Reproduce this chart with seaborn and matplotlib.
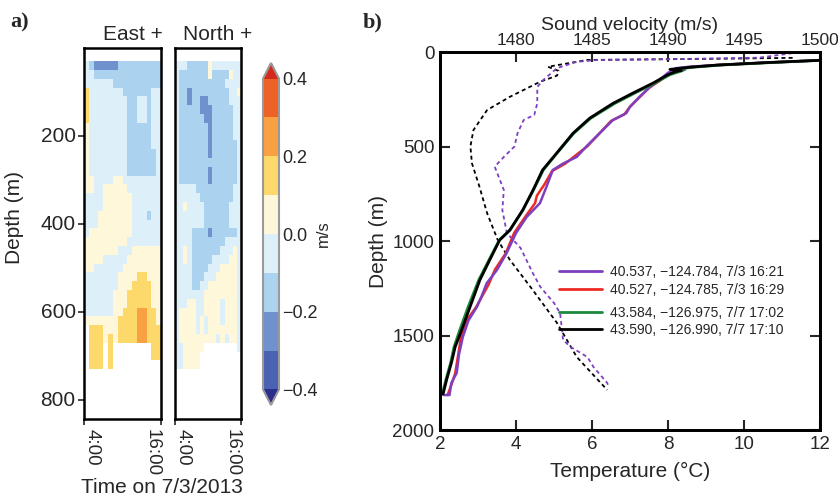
import numpy as np
import matplotlib
matplotlib.use("Agg")
import matplotlib.pyplot as plt
from matplotlib.colors import ListedColormap, BoundaryNorm
from matplotlib.lines import Line2D
from matplotlib.ticker import FixedLocator
import seaborn as sns

sns.set_style("ticks")
plt.rcParams["font.family"] = ["Liberation Sans", "DejaVu Sans"]

# ---------------- panel a data (velocity bands) ----------------
# band codes: A..H -> band centre values, '.' -> no data
band_codes = ["A", "B", "C", "D", "E", "F", "G", "H"]
band_values = [-0.35, -0.25, -0.15, -0.05, 0.05, 0.15, 0.25, 0.35]
time_start, time_end = 4, 16              # hours on 7/3/2013, 16 columns
depth_top, depth_step = 30, 20            # 35 rows, 30 m .. 730 m
time_tick_labels = ["4:00", "16:00"]
depth_ticks_a = [200, 400, 600, 800]
cbar_ticks = [-0.4, -0.2, 0.0, 0.2, 0.4]
cbar_tick_labels = ["\u22120.4", "\u22120.2", "0.0", "0.2", "0.4"]

east_rows = [
    "DCBBBBBCCCCCCCCC",
    "DDCCCCCCCCCCCCCC",
    "DDDDDDCCCCCCCCCC",
    "FDDDDDDDCCCCCCDD",
    "FDDDDDDDDCCDDCDD",
    "FDDDDDDDDCCDDCDD",
    "FDDDDDDDDCCDDCDD",
    "EDDDDDDDDCCCCCDD",
    "EDDDDDDDDCCCCCDD",
    "EDDDDDDDDCCCCCDD",
    "EDDDDDDDDCCCCCCD",
    "EDDDDDDDDCCCCCCD",
    "EDDDDDDDDCCCCCCD",
    "EEDDDDEEDDDDDDDD",
    "EEDDEEEEEDDDDDDD",
    "DDDDEEEEEEDDDDDD",
    "DDDDEEEEEEDDDDDD",
    "DDDEEEEEEEDDDCDD",
    "DDDEEEEEEEDDDDDD",
    "DEEEEEEEEEDDDDDD",
    "EEEEEEEEEDDDDDDD",
    "EEEEEEEDDDEEEEEE",
    "EEEEDDDDDEEEEEEE",
    "EEDDDDDDEEEEEEEE",
    "DDDDDDDEEEEFFEEE",
    "DDDDDDDEEEFFFFEE",
    "DDDDDDEEEFFFFFEE",
    "DDDDDDEEEFFFFFEE",
    "DDDDDDEEFFFGGFFE",
    "EEEEEEEFFFFGGFFE",
    ".FFFEEEFFFFGGFFF",
    ".FFFEFEFFFFGGFFF",
    ".FFF.F........FF",
    ".FFF.F........FF",
    ".FFF.F..........",
]

north_rows = [
    "DDDCCCCCEDDDDDDD",
    "DCCCCCCCECCCCEDD",
    "DCCCCCCCCCCCDDDD",
    "DCCBCCCCCCCCCDDE",
    "DCCBCCBBCCCCCDDD",
    "DCCCCCBBBCCCCCDD",
    "DCCCCCCBBCCCCCDD",
    "DCCCCCCCBCCCCCDD",
    "DCCCCCCCBCCCCCDD",
    "DCCCCCCCBCCCCCCD",
    "DCCCCCCCBCCCCCCD",
    "DCCCCCCCCCCCCCCD",
    "DCCCCCCCBCCCCCCD",
    "DCCCCCCCBCCCCCCD",
    "DDDDDCCCCCCCCCDD",
    "DDDDDDCCCCCCCCDD",
    "DDEDDDDCCCCCCDDD",
    "DDDDDDDCCCCCCDDD",
    "DDDDDDDCCCCCCDDD",
    "DDDDCCCCBCCCCCCD",
    "DDDDCCCCCCCCDDDD",
    "DDEDCCCCCCCDDDED",
    "DDEDCCCCCDDDDEED",
    "DDDDCCCCDDDEEEED",
    "DDDDCCCDDDEEEEED",
    "DDDDCCDDEEEEEEED",
    "DDDDDDDEEEEEEEED",
    "DDDEEDDEEEEDEEED",
    "DEEEEDDEEEEDEEED",
    "DEEEEDEDEEEDEEED",
    "DEEEEDEDEEEEEEED",
    "DEEEEEEEEEDEDEED",
    "DDEEEEE........D",
    "DDEEEE..........",
    "DDEEEE..........",
]

# ---------------- panel b data ----------------
depth_black = [38, 44, 56, 69, 80, 92, 97, 104, 120, 165, 218, 272, 350, 430, 535, 624, 730, 836,
               942, 995, 1100, 1206, 1349, 1471, 1560, 1645, 1730, 1810]
temp_black = [13.5, 12.0, 10.6, 9.3, 8.6, 8.05, 8.35, 8.2, 8.0, 7.6, 7.07, 6.55, 5.94, 5.5, 5.07, 4.7,
              4.45, 4.18, 3.84, 3.57, 3.31, 3.05, 2.79, 2.57, 2.4, 2.3, 2.18, 2.08]
depth_green = depth_black
temp_green = [13.5, 12.0, 10.7, 9.4, 8.7, 8.15, 8.4, 8.3, 8.05, 7.65, 7.12, 6.6, 5.97, 5.52, 5.08, 4.72,
              4.46, 4.18, 3.84, 3.56, 3.29, 3.02, 2.74, 2.52, 2.37, 2.28, 2.16, 2.06]
depth_purple = [38, 44, 56, 69, 78, 86, 93, 100, 110, 148, 190, 237, 290, 324, 360, 430, 500, 555, 590,
                624, 714, 800, 873, 958, 1065, 1153, 1223, 1290, 1349, 1420, 1508, 1600, 1698, 1751,
                1815, 1815]
temp_purple = [13.5, 12.0, 10.6, 9.3, 8.56, 8.2, 8.45, 8.1, 8.0, 7.77, 7.5, 7.25, 7.0, 6.9, 6.55, 6.2,
               5.85, 5.6, 5.24, 4.97, 4.8, 4.63, 4.28, 4.0, 3.75, 3.5, 3.23, 3.1, 2.97, 2.75, 2.6, 2.5,
               2.44, 2.3, 2.25, 2.1]
depth_red = [38, 44, 56, 69, 80, 90, 100, 110, 150, 190, 240, 290, 330, 365, 430, 500, 550, 590, 630,
             700, 760, 800, 870, 958, 1065, 1150, 1230, 1350, 1420, 1510, 1600, 1700, 1760, 1815]
temp_red = [13.5, 12.0, 10.6, 9.3, 8.6, 8.25, 8.35, 8.05, 7.8, 7.5, 7.25, 7.0, 6.85, 6.5, 6.2, 5.87,
            5.55, 5.3, 4.95, 4.75, 4.55, 4.5, 4.25, 3.95, 3.73, 3.45, 3.28, 2.95, 2.7, 2.55, 2.48, 2.4,
            2.3, 2.2]
depth_sv_black = [31, 36, 42, 78, 100, 125, 157, 237, 307, 413, 500, 588, 714, 853, 995, 1100, 1259,
                  1434, 1614, 1788]
sv_black = [1498.2, 1493.0, 1484.7, 1482.1, 1482.8, 1482.7, 1481.6, 1479.6, 1478.1, 1477.2, 1477.0,
            1477.1, 1477.6, 1478.1, 1478.8, 1479.6, 1481.1, 1482.7, 1484.0, 1486.0]
depth_sv_purple = [6, 30, 38, 42, 52, 85, 148, 185, 272, 333, 360, 430, 500, 555, 607, 730, 836, 958,
                   1037, 1169, 1243, 1328, 1381, 1524, 1561, 1614, 1667, 1751, 1772]
sv_purple = [1498.2, 1496.0, 1490.0, 1485.4, 1484.0, 1482.7, 1481.8, 1481.4, 1481.4, 1481.2, 1480.5,
             1480.1, 1479.9, 1479.2, 1478.6, 1479.2, 1479.1, 1479.4, 1480.3, 1481.1, 1481.6, 1482.5,
             1482.9, 1483.1, 1483.6, 1484.7, 1485.1, 1486.0, 1486.1]
legend_labels = ["40.537, \u2212124.784, 7/3 16:21", "40.527, \u2212124.785, 7/3 16:29",
                 "43.584, \u2212126.975, 7/7 17:02", "43.590, \u2212126.990, 7/7 17:10"]
temp_ticks = [2, 4, 6, 8, 10, 12]
depth_ticks_b = [0, 500, 1000, 1500, 2000]
sv_ticks = [1480, 1485, 1490, 1495, 1500]

# ---------------- styles ----------------
band_colors = ["#4a62b2", "#6f92cf", "#abd2ee", "#ddf0f9", "#fef7da", "#fdd86a", "#f9a043", "#ee6127"]
cmap = ListedColormap(band_colors)
cmap.set_under("#2c2f8a")
cmap.set_over("#d42a1e")
cmap.set_bad((1, 1, 1, 0))
norm = BoundaryNorm(np.linspace(-0.4, 0.4, 9), 8)
c_purple, c_red, c_green, c_black = "#7d3fc0", "#ee2a24", "#1c8a3c", "#000000"

code_map = dict(zip(band_codes, band_values))
code_map["."] = np.nan


def decode(rows):
    return np.array([[code_map[c] for c in r] for r in rows], dtype=float)


east = decode(east_rows)
north = decode(north_rows)

W, H = 838, 498
fig = plt.figure(figsize=(W / 100, H / 100), dpi=100)


def rect(l, t, r, b):
    return [l / W, 1 - b / H, (r - l) / W, (b - t) / H]


ax_e = fig.add_axes(rect(84, 48, 161, 419))
ax_n = fig.add_axes(rect(175, 48, 241, 419))
cax = fig.add_axes(rect(263, 63, 279, 405))

ylim_a = ((843 - depth_top) / depth_step, (0 - depth_top) / depth_step)
for ax, data, title in [(ax_e, east, "East +"), (ax_n, north, "North +")]:
    sns.heatmap(data, cmap=cmap, norm=norm, cbar=False, ax=ax)
    ncol = data.shape[1]
    ax.set_ylim(*ylim_a)
    ax.set_xlim(0, ncol)
    ax.set_xticks([0, ncol])
    labs = ax.set_xticklabels(time_tick_labels, rotation=-90, fontsize=13.5)
    labs[0].set_ha("left")
    labs[1].set_ha("right")
    for s in ax.spines.values():
        s.set_visible(True)
        s.set_linewidth(1.8)
        s.set_color("black")
    ax.tick_params(axis="x", direction="out", length=4, width=1.2, pad=3)
    ax.text(0.64, 1.022, title, transform=ax.transAxes, ha="center", va="baseline", fontsize=15)

ax_e.set_yticks([(d - depth_top) / depth_step for d in depth_ticks_a])
ax_e.set_yticklabels([str(d) for d in depth_ticks_a], fontsize=15, rotation=0)
ax_e.tick_params(axis="y", direction="out", length=4, width=1.2, pad=2)
ax_n.set_yticks([])

cb = fig.colorbar(ax_n.collections[0], cax=cax, extend="both", ticks=cbar_ticks)
cb.ax.set_yticklabels(cbar_tick_labels)
cb.minorlocator = FixedLocator([-0.3, -0.1, 0.1, 0.3])
cb.ax.tick_params(which="both", direction="in", length=4, width=1.1, labelsize=13, pad=2,
                  color="#333333")
cb.outline.set_edgecolor("#9a9a9a")
cb.outline.set_linewidth(1.5)
cb.set_label("m/s", fontsize=12, labelpad=-1)

fig.text(162 / W, 1 - 487 / H, "Time on 7/3/2013", ha="center", va="center", fontsize=15)
fig.text(15 / W, 1 - 218 / H, "Depth (m)", rotation=90, ha="center", va="center", fontsize=15)
fig.text(10 / W, 1 - 22 / H, "a)", ha="left", va="center", fontsize=16, weight="bold",
         family="Liberation Serif")
fig.text(363 / W, 1 - 22 / H, "b)", ha="left", va="center", fontsize=16, weight="bold",
         family="Liberation Serif")

# ---------------- panel b ----------------
axb = fig.add_axes(rect(440, 52, 820, 430))
axt = axb.twiny()

sns.lineplot(x=sv_black, y=depth_sv_black, sort=False, estimator=None, color="black", lw=1.3,
             ax=axt)
sns.lineplot(x=sv_purple, y=depth_sv_purple, sort=False, estimator=None, color=c_purple, lw=1.3,
             ax=axt)
for ln in axt.lines:
    ln.set_dashes([2.2, 1.8])

sns.lineplot(x=temp_red, y=depth_red, sort=False, estimator=None, color=c_red, lw=1.8, ax=axb)
sns.lineplot(x=temp_purple, y=depth_purple, sort=False, estimator=None, color=c_purple, lw=1.8, ax=axb)
sns.lineplot(x=temp_green, y=depth_green, sort=False, estimator=None, color=c_green, lw=2.0, ax=axb)
sns.lineplot(x=temp_black, y=depth_black, sort=False, estimator=None, color=c_black, lw=2.0, ax=axb)
axb.set_zorder(axt.get_zorder() + 1)
axb.patch.set_visible(False)

axb.set_xlim(2, 12)
axb.set_ylim(2000, 0)
axt.set_xlim(1475, 1500)
axb.set_xticks(temp_ticks)
axb.set_yticks(depth_ticks_b)
axt.set_xticks(sv_ticks)
axb.tick_params(direction="in", length=7, width=1.5, labelsize=13.5, right=True, top=False, pad=4)
axt.tick_params(direction="in", length=7, width=1.5, labelsize=12.5, pad=3)
for a in (axb, axt):
    for s in a.spines.values():
        s.set_linewidth(2.0)
        s.set_color("black")
axb.set_xlabel("Temperature (\u00b0C)", fontsize=15, labelpad=7)
axb.set_ylabel("Depth (m)", fontsize=15, labelpad=3)
axt.set_xlabel("Sound velocity (m/s)", fontsize=14, labelpad=2)

cols = [c_purple, c_red, c_green, c_black]
handles = [Line2D([], [], color=c, lw=2.0) for c in cols]
leg_kw = dict(frameon=False, fontsize=10, handlelength=3.1, handletextpad=0.6, labelspacing=0.25,
              borderpad=0, borderaxespad=0, loc="center left")
leg1 = fig.legend(handles[:2], legend_labels[:2], bbox_to_anchor=(559 / W, 1 - 281 / H), **leg_kw)
leg2 = fig.legend(handles[2:], legend_labels[2:], bbox_to_anchor=(559 / W, 1 - 321.5 / H), **leg_kw)

fig.savefig("out.png", dpi=100)
